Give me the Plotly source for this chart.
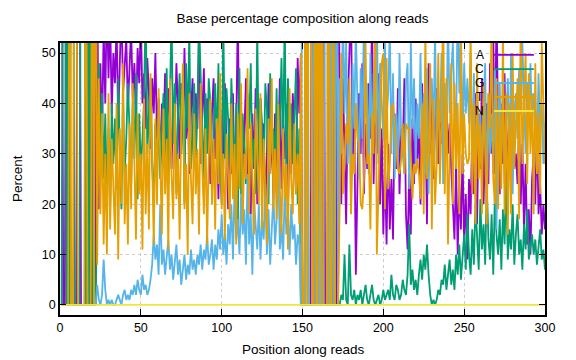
import plotly.graph_objects as go

# Position along reads (1..300)
positions = list(range(1, 301))

# Base percentages (values above 52 run off the top of the chart)
pct_A = [
    100,0,0,100,0,0,0,0,0,0,100,100,0,0,0,0,0,100,0,0,100,0,
    70,19,48,33,55,40,62,45,58,38,
    50,44,56,36,49,60,42,47,53,39,
    46,55,41,48,37,51,44,57,40,46,
    35,49,42,31,45,38,50,33,41,28,
    40,34,46,30,43,37,27,41,35,48,
    39,29,44,36,51,33,40,26,38,45,
    31,42,35,55,28,37,47,30,41,34,
    24,38,45,29,36,21,40,33,27,44,
    31,19,37,26,42,23,35,58,28,39,
    22,34,45,25,31,18,38,27,43,20,
    33,41,24,36,17,30,44,26,35,21,
    38,27,32,45,23,36,29,40,19,34,
    26,42,31,22,49,38,
    50,0,0,0,0,0,0,100,0,0,100,0,0,0,100,0,0,0,100,0,0,100,0,100,
    35,20,45,30,16,40,55,60,28,38,
    6,25,42,30,48,22,36,27,44,33,
    58,24,39,30,46,20,35,14,28,12,
    32,15,25,13,38,27,43,22,35,30,
    45,18,11,26,14,37,24,41,29,35,
    20,44,27,38,16,48,30,40,25,36,
    43,28,38,32,45,26,40,30,36,27,
    20,13,28,10,24,15,30,12,22,9,
    25,18,35,22,42,16,38,27,45,20,
    33,40,24,48,30,55,26,60,35,22,
    40,28,46,24,32,38,21,35,27,30,
    24,36,20,32,15,28,12,19,10,25,
    30,20,35,18,24,14,20,15,
]

pct_C = [
    0,100,100,0,100,0,100,100,0,0,0,0,100,100,100,0,100,0,100,0,0,0,
    20,48,30,42,25,38,22,35,18,40,
    28,37,23,45,30,19,41,26,33,44,
    35,24,40,29,46,21,38,27,33,41,
    60,30,38,45,28,20,36,24,40,25,
    35,42,28,47,24,39,58,32,44,22,
    38,46,30,42,20,48,35,55,27,33,
    44,29,38,56,46,33,25,42,30,45,
    40,26,33,44,31,48,27,20,57,29,
    43,37,28,45,33,25,40,15,47,22,
    38,30,24,42,35,48,27,33,22,55,
    29,41,36,25,44,39,20,46,30,35,
    27,43,22,36,49,31,58,24,45,33,
    40,28,36,47,20,35,
    0,0,0,0,0,0,0,0,0,0,0,0,0,0,0,0,0,0,0,0,0,0,0,0,
    0,2,1,10,1,0,12,2,1,3,
    0,2,1,3,0,2,4,1,0,2,
    4,1,0,1,2,0,1,3,1,2,
    3,1,6,2,1,4,3,1,2,5,
    3,2,6,16,4,7,3,5,2,6,
    9,5,10,7,12,6,2,0,1,0,
    1,3,2,5,4,8,3,6,9,4,
    7,3,10,6,12,5,9,14,7,18,
    10,6,15,8,20,12,7,21,11,16,
    8,24,13,9,18,6,22,14,10,17,
    7,19,12,25,9,15,11,20,8,14,
    18,10,13,7,16,11,19,9,12,14,
    10,13,8,12,15,9,11,7,
]

pct_G = [
    0,0,0,0,0,0,0,0,0,0,0,0,0,0,0,0,0,0,0,0,0,0,
    4,1,0,2,9,3,0,1,0,1,
    0,0,1,2,1,0,2,3,1,2,
    1,3,2,4,2,5,3,2,6,3,
    4,2,3,5,8,14,9,12,6,20,
    8,11,6,9,13,7,10,5,8,12,
    6,9,4,7,10,5,8,6,11,7,
    9,6,10,8,12,7,11,9,14,8,
    10,13,7,12,9,15,11,18,10,14,
    8,16,12,20,9,24,13,17,10,22,
    14,19,8,26,12,18,6,21,15,11,
    20,9,17,13,24,10,19,8,15,22,
    12,17,28,11,16,9,23,14,18,10,
    20,13,16,8,14,12,
    0,100,100,0,100,0,0,0,100,0,0,0,100,0,0,100,100,0,0,100,0,0,100,0,
    45,30,60,38,52,28,42,20,48,35,
    55,40,25,47,33,58,38,44,26,50,
    30,46,36,60,28,48,40,33,52,37,
    42,55,30,46,25,38,27,50,34,29,
    26,44,48,23,52,35,45,28,40,33,
    50,30,42,26,47,22,38,45,33,55,
    28,41,36,50,24,44,32,58,38,46,
    52,40,35,60,42,55,33,48,38,45,
    36,50,28,46,22,44,30,38,26,40,
    48,20,42,30,38,26,47,15,36,44,
    30,40,24,35,45,28,50,22,38,42,
    33,47,38,52,40,30,44,36,48,35,
    42,38,30,46,34,40,28,36,
]

pct_T = [
    0,0,0,0,0,100,0,0,100,100,0,0,0,0,0,100,0,0,0,100,0,100,
    8,45,18,38,12,30,10,42,15,33,
    22,14,40,9,35,20,48,16,28,12,
    36,19,44,25,13,38,22,30,11,41,
    18,32,15,46,24,12,37,20,43,27,
    14,39,22,33,11,45,26,17,40,21,
    30,13,36,48,19,28,10,42,25,16,
    38,22,31,14,44,27,18,35,12,29,
    41,20,33,15,37,24,46,19,30,13,
    34,26,17,40,21,32,12,38,23,44,
    16,30,25,47,18,36,22,14,39,28,
    20,42,15,33,24,12,37,26,45,19,
    31,17,40,23,14,35,21,28,11,43,
    25,18,36,22,30,16,
    50,0,0,100,0,100,100,0,0,100,0,100,0,100,0,0,0,100,0,0,100,0,0,0,
    20,50,22,28,36,32,45,18,30,26,
    40,33,32,20,19,25,52,28,30,15,
    38,30,62,10,24,32,48,50,19,49,
    23,28,39,40,36,31,27,26,29,36,
    26,36,35,35,30,21,28,26,29,26,
    21,40,18,55,25,30,48,15,41,20,
    28,50,24,38,60,22,45,12,33,48,
    20,44,27,40,18,52,26,38,30,28,
    29,56,22,40,16,48,25,36,18,44,
    30,16,42,35,58,25,20,45,19,38,
    23,55,18,42,14,40,18,50,27,36,
    45,17,60,28,40,50,24,46,30,42,
    18,48,26,38,22,52,40,28,
]

pct_N = [0] * 300

for arr in (pct_A, pct_C, pct_G, pct_T, pct_N):
    assert len(arr) == len(positions), len(arr)

bases = ["A", "C", "G", "T", "N"]
series = [pct_A, pct_C, pct_G, pct_T, pct_N]
colors = ["#9400D3", "#009E73", "#56B4E9", "#E69F00", "#F0E442"]

FONT = "Liberation Sans, Arial, sans-serif"

fig = go.Figure()
for name, vals, col in zip(bases, series, colors):
    fig.add_trace(go.Scatter(x=positions, y=vals, mode="lines", name=name,
                             line=dict(color=col, width=1.8), showlegend=False))

# gnuplot-style key: label on the left, sample line on the right
key_y = [0.956, 0.904, 0.853, 0.8015, 0.75]
shapes = []
annotations = []
for name, col, ky in zip(bases, colors, key_y):
    annotations.append(dict(x=0.879, y=ky, xref="paper", yref="paper", text=name,
                            showarrow=False, xanchor="right", yanchor="middle",
                            font=dict(family=FONT, size=12, color="black")))
    shapes.append(dict(type="line", xref="paper", yref="paper", x0=0.895, x1=0.977,
                       y0=ky, y1=ky, line=dict(color=col, width=1.8), layer="above"))

# axis titles placed like gnuplot's
PLOT_L, PLOT_R, PLOT_T, PLOT_B = 60, 31, 43, 45
pw = 576 - PLOT_L - PLOT_R
ph = 360 - PLOT_T - PLOT_B
annotations.append(dict(text="Percent", textangle=-90, showarrow=False,
                        xref="paper", yref="paper",
                        x=(17 - PLOT_L) / pw, y=1 - (179 - PLOT_T) / ph,
                        xanchor="center", yanchor="middle",
                        font=dict(family=FONT, size=13.5, color="black")))
annotations.append(dict(text="Position along reads", showarrow=False,
                        xref="paper", yref="paper",
                        x=(303 - PLOT_L) / pw, y=1 - (349 - PLOT_T) / ph,
                        xanchor="center", yanchor="middle",
                        font=dict(family=FONT, size=13.5, color="black")))

axis_common = dict(showline=True, linecolor="black", linewidth=1.5, mirror="ticks",
                   ticks="inside", ticklen=6, tickcolor="black", automargin=False,
                   showgrid=True, gridcolor="#cccccc", griddash="dot", gridwidth=1,
                   zeroline=False, tickfont=dict(family=FONT, size=12.5, color="black"))

fig.update_layout(
    width=576, height=360,
    paper_bgcolor="white", plot_bgcolor="white",
    margin=dict(l=PLOT_L, r=PLOT_R, t=PLOT_T, b=PLOT_B),
    title=dict(text="Base percentage composition along reads", x=0.5, xref="paper",
               y=1 - 18 / 360, yref="container", yanchor="middle", xanchor="center",
               font=dict(family=FONT, size=13.5, color="black")),
    xaxis=dict(range=[0, 300], tickvals=[0, 50, 100, 150, 200, 250, 300], **axis_common),
    yaxis=dict(range=[-2, 52], tickvals=[0, 10, 20, 30, 40, 50], **axis_common),
    shapes=shapes,
    annotations=annotations,
)

fig.write_html("out.html", config={"displayModeBar": False},
               post_script="document.body.style.margin='0';document.body.style.overflow='hidden';")
